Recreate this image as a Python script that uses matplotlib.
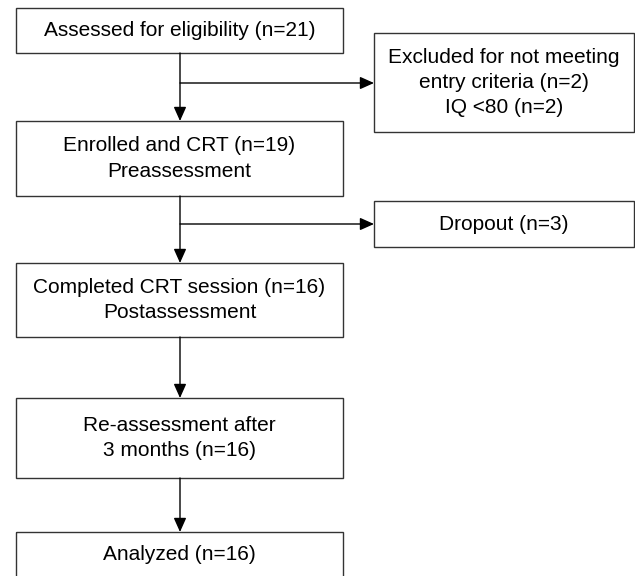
import matplotlib.pyplot as plt
from matplotlib.patches import Rectangle

plt.rcParams['font.family'] = ['Liberation Sans', 'DejaVu Sans']

# main column boxes (top to bottom)
main_labels = [
    'Assessed for eligibility (n=21)',
    'Enrolled and CRT (n=19)\nPreassessment',
    'Completed CRT session (n=16)\nPostassessment',
    'Re-assessment after\n3 months (n=16)',
    'Analyzed (n=16)',
]
main_top = [8, 121, 263, 398, 532]
main_bottom = [53, 196, 337, 478, 578]

# side boxes (exclusions), each branching off the link below main box i
side_labels = [
    'Excluded for not meeting\nentry criteria (n=2)\nIQ <80 (n=2)',
    'Dropout (n=3)',
]
side_top = [33, 201]
side_bottom = [132, 247]
side_branch_y = [83, 224]

main_x0, main_x1 = 16, 343
side_x0, side_x1 = 374, 634
stem_x = 180

fig = plt.figure(figsize=(6.35, 5.76), dpi=100)
ax = fig.add_axes([0, 0, 1, 1])
ax.set_xlim(0, 635)
ax.set_ylim(576, 0)
ax.axis('off')

arrow = dict(arrowstyle='-|>,head_length=0.85,head_width=0.38', color='black',
             lw=1.0, mutation_scale=10, shrinkA=0, shrinkB=0)


def box(x0, x1, y0, y1, text):
    ax.add_patch(Rectangle((x0, y0), x1 - x0, y1 - y0, fill=False,
                           edgecolor='#333333', lw=1.0))
    ax.text((x0 + x1) / 2, (y0 + y1) / 2, text, ha='center', va='center',
            fontsize=15, linespacing=1.42, color='black')


for lab, t, b in zip(main_labels, main_top, main_bottom):
    box(main_x0, main_x1, t, b, lab)

for lab, t, b in zip(side_labels, side_top, side_bottom):
    box(side_x0, side_x1, t, b, lab)

# vertical links between main boxes
for i in range(len(main_labels) - 1):
    ax.annotate('', xy=(stem_x, main_top[i + 1]), xytext=(stem_x, main_bottom[i]),
                arrowprops=arrow)

# horizontal branches to side boxes
for y in side_branch_y:
    ax.annotate('', xy=(side_x0, y), xytext=(stem_x, y), arrowprops=arrow)

fig.savefig('out.png', dpi=100)
